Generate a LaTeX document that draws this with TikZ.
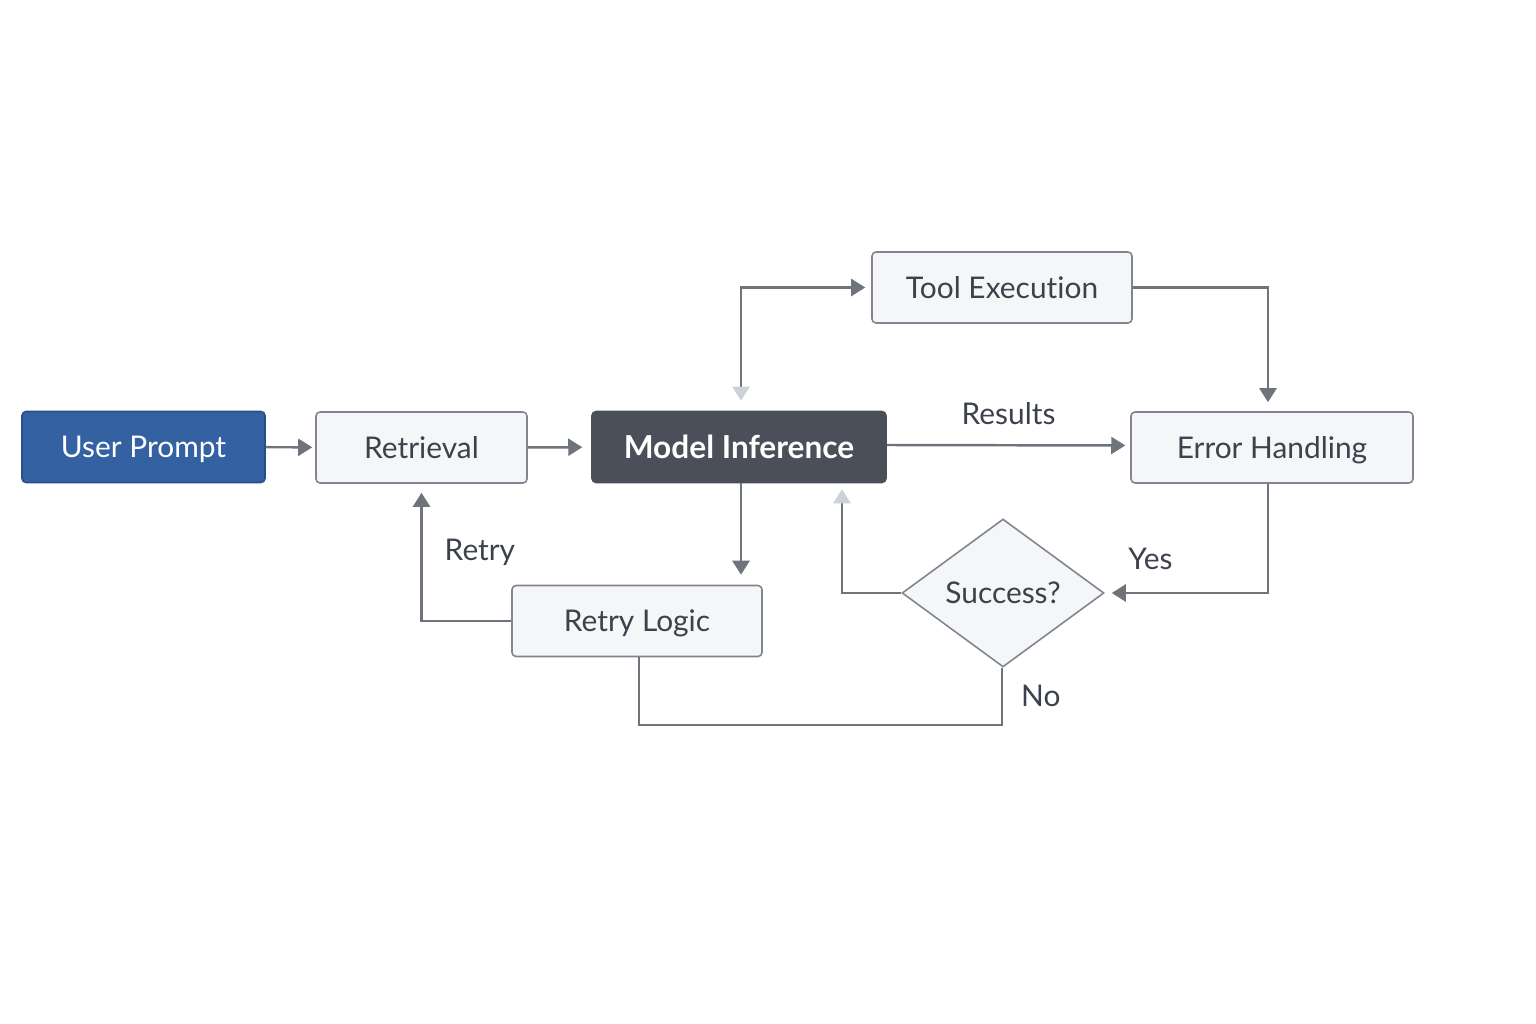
\documentclass[tikz,border=0pt]{standalone}
\usepackage{fontspec}
\setmainfont{Lato}[Ligatures=NoCommon]
\usetikzlibrary{positioning,shapes.geometric,arrows.meta}

\definecolor{promptblue}{HTML}{3461A1}
\definecolor{promptedge}{HTML}{284F8B}
\definecolor{modeldark}{HTML}{4B4F59}
\definecolor{boxfill}{HTML}{F5F6F8}
\definecolor{boxedge}{HTML}{80858F}
\definecolor{linegray}{HTML}{6E737C}
\definecolor{textgray}{HTML}{3C414B}
\definecolor{fadetip}{HTML}{CDD1D8}

\tikzset{
    box/.style={draw=boxedge, fill=boxfill, rounded corners=0.08cm, line width=0.9pt,
        minimum height=1.42cm, inner sep=0pt, text=textgray,
        text height=12.3pt, text depth=0pt,
        font=\fontsize{17}{20}\selectfont},
    prompt/.style={box, draw=promptedge, fill=promptblue, text=white},
    model/.style={box, draw=modeldark, fill=modeldark, text=white,
        text height=13pt, font=\fontsize{18}{21}\selectfont\bfseries},
    decision/.style={box, diamond, rounded corners=0pt, minimum width=4.04cm,
        minimum height=2.96cm},
    link/.style={draw=linegray, line width=1.4pt},
    flow/.style={link, -{Triangle[length=0.28cm, width=0.34cm]}, shorten >=0.14cm},
    tag/.style={inner sep=0pt, text=textgray, font=\fontsize{17}{20}\selectfont}
}

\begin{document}
\begin{tikzpicture}[x=0.02cm, y=-0.02cm]

    % canvas
    \fill[white] (0,0) rectangle (1536,1024);
    \useasboundingbox (0,0) rectangle (1536,1024);

    % main row
    \node[prompt, minimum width=4.86cm] (prompt) at (143.5,447) {User Prompt};
    \node[box, minimum width=4.22cm] (retrieval) at (421.5,447.5) {Retrieval};
    \node[model, minimum width=5.88cm] (model) at (739,447) {Model Inference};
    \node[box, minimum width=5.64cm] (error) at (1272,447.5) {Error Handling};

    % upper and lower boxes
    \node[box, minimum width=5.2cm] (tool) at (1002,287.5) {Tool Execution};
    \node[box, minimum width=5cm] (retry) at (637,621) {Retry Logic};
    \node[decision] (success) at (1003,593) {Success?};

    % forward flow
    \draw[flow, shorten >=0.06cm] (prompt) -- (retrieval);
    \draw[flow, shorten >=0.18cm] (retrieval) -- (model);
    \draw[link, {Triangle[length=0.28cm, width=0.34cm, color=fadetip]}-{Triangle[length=0.28cm, width=0.34cm]},
        shorten <=0.2cm, shorten >=0.12cm] ([xshift=0.04cm]model.north) |- (tool.west);
    \draw[flow, shorten >=0.18cm] (tool.east) -| ([xshift=-0.08cm]error.north);
    \draw[flow, shorten >=0.1cm] ([yshift=0.04cm]model.east) -- ([yshift=0.04cm]error.west)
        node[tag, midway, above=0.38cm] (results) {Results};

    % decision
    \draw[flow] ([xshift=-0.08cm]error.south) |- (success.east)
        node[tag, pos=0.86, above=0.44cm] (yes) {Yes};
    \draw[link, -{Triangle[length=0.28cm, width=0.34cm, color=fadetip]}, shorten >=0.12cm]
        (success.west) -| ([xshift=2.06cm]model.south);
    \draw[flow, shorten >=0.2cm] ([xshift=0.04cm]model.south) -- ([xshift=0.04cm]model.south |- retry.north);

    % retry loop
    \draw[flow, shorten >=0.18cm] (retry.west) -| (retrieval.south)
        node[tag, pos=0.75, right=0.44cm] (retrylbl) {Retry};
    \draw[link] ([xshift=-0.02cm]success.south) -- ++(0,57) coordinate (nocorner)
        node[tag, midway, right=0.36cm] (no) {No}
        -| ([xshift=0.04cm]retry.south);

\end{tikzpicture}
\end{document}
